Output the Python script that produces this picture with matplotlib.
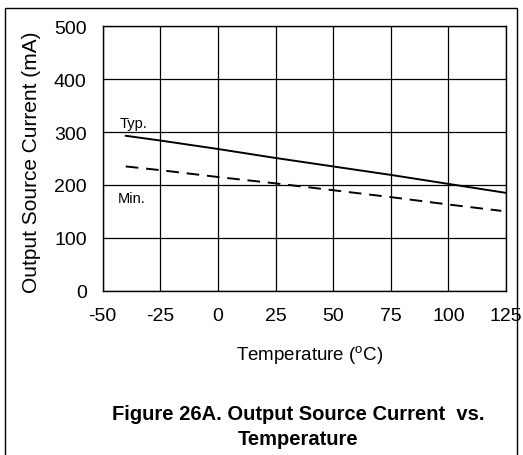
import numpy as np
import matplotlib
matplotlib.use('AGG')
import matplotlib.pyplot as plt
from matplotlib.patches import Rectangle

plt.rcParams['font.family'] = ['Liberation Sans', 'DejaVu Sans']
plt.rcParams['axes.unicode_minus'] = False
plt.rcParams['mathtext.fontset'] = 'custom'
plt.rcParams['mathtext.rm'] = 'Liberation Sans'

# values
typ_temp = [-40, -25, 0, 25, 50, 75, 100, 125]
typ_ma = [293, 284, 268, 251, 235, 219, 202, 185]
min_temp = [-40, -25, 0, 25, 50, 75, 100, 123]
min_ma = [235, 228, 215, 203, 190, 177, 163, 151]
x_ticks = [-50, -25, 0, 25, 50, 75, 100, 125]
y_ticks = [0, 100, 200, 300, 400, 500]

fig = plt.figure(figsize=(5.23, 4.56), dpi=100)
ax = fig.add_axes([0.1964, 0.3603, 0.7711, 0.5798])

ax.plot(typ_temp, typ_ma, color='black', linewidth=1.4)
ax.plot(min_temp, min_ma, color='black', linewidth=1.4, dashes=(6.5, 4))

ax.set_xlim(-50, 125)
ax.set_ylim(0, 500)
ax.set_xticks(x_ticks)
ax.set_yticks(y_ticks)
ax.tick_params(length=0, labelsize=14)
ax.tick_params(axis='x', pad=12)
ax.tick_params(axis='y', pad=11.5)
ax.grid(color='black', linewidth=0.9)
for s in ax.spines.values():
    s.set_linewidth(1.0)

ax.text(-42.5, 318, 'Typ.', fontsize=10.5, va='center', ha='left')
ax.text(-43.5, 175, 'Min.', fontsize=10.5, va='center', ha='left')

fig.text(32 / 523, 1 - 162 / 456, 'Output Source Current (mA)',
         fontsize=15, rotation=90, ha='center', va='center')
fig.text(310 / 523, 1 - 356 / 456, 'Temperature ($^{\\mathrm{o}}$C)',
         fontsize=13.5, ha='center', va='center')
fig.text(298 / 523, 1 - 414 / 456, 'Figure 26A. Output Source Current  vs.',
         fontsize=14.5, fontweight='bold', ha='center', va='center')
fig.text(298 / 523, 1 - 440 / 456, 'Temperature',
         fontsize=14.5, fontweight='bold', ha='center', va='center')

fig.add_artist(Rectangle((5 / 523, -0.02), 512 / 523, 1.02 - 9 / 456,
                         transform=fig.transFigure, fill=False,
                         edgecolor='black', linewidth=1.0))

fig.savefig('out.png', dpi=100)
